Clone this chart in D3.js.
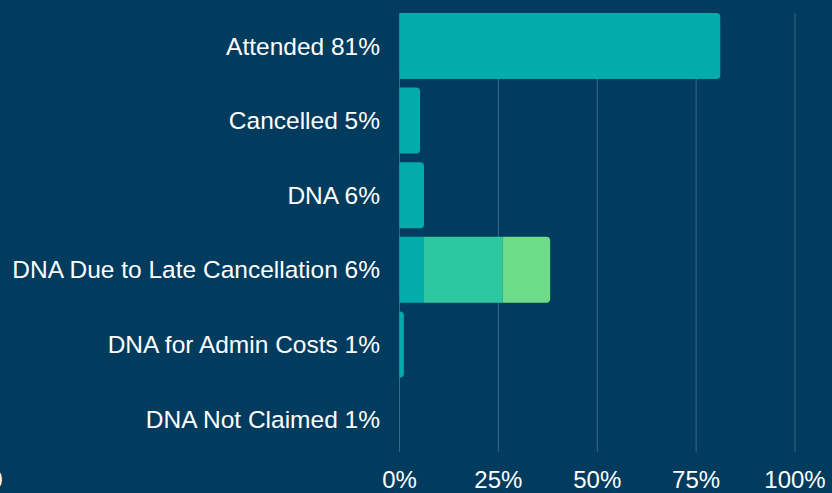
<!DOCTYPE html>
<html>
<head>
<meta charset="utf-8">
<script src="https://cdn.jsdelivr.net/npm/d3@7"></script>
<style>
  html, body { margin: 0; padding: 0; background: #013c5f; overflow: hidden; }
  svg { display: block; font-family: "Liberation Sans", Arial, sans-serif; }
</style>
</head>
<body>
<svg id="chart"></svg>
<script>
// categories and values (percent of bar length)
const categories = ["Attended 81%", "Cancelled 5%", "DNA 6%", "DNA Due to Late Cancellation 6%", "DNA for Admin Costs 1%", "DNA Not Claimed 1%"];
const seriesA = [81.1, 5.2, 6.2, 6.2, 1.1, 0];
const seriesB = [0, 0, 0, 19.9, 0, 0];
const seriesC = [0, 0, 0, 12.0, 0, 0];
const seriesColors = ["#02aca9", "#2dc8a0", "#6ddb87"];
const xTicks = [0, 25, 50, 75, 100];

function drawChart(){

    const width = 832;
    const height = 493;
    const margin = {top: 13, right: 37, bottom: 41, left: 399.5};

    const svg = d3.select("#chart")
                  .attr("width", width)
                  .attr("height", height);

    svg.selectAll("*").remove();

    const x = d3.scaleLinear()
                .domain([0, 100])
                .range([margin.left, width - margin.right]);

    const y = d3.scaleBand()
                .domain(categories)
                .range([margin.top, height - margin.bottom])
                .paddingInner(0.115)
                .paddingOuter(0);

    // grid lines
    svg.append("g")
       .selectAll("line")
       .data(xTicks)
       .join("line")
       .attr("x1", d => x(d))
       .attr("x2", d => x(d))
       .attr("y1", margin.top)
       .attr("y2", height - margin.bottom)
       .attr("stroke", "#36688a")
       .attr("stroke-width", 1);

    // stacked data
    const rows = categories.map((c, i) => ({cat: c, a: seriesA[i], b: seriesB[i], c: seriesC[i]}));
    const stack = d3.stack().keys(["a", "b", "c"])(rows);

    const r = 4;
    function barPath(x0, x1, y0, h, round){
        const w = x1 - x0;
        if (w <= 0) return "";
        const rr = round ? Math.min(r, w, h / 2) : 0;
        return `M${x0},${y0}H${x1 - rr}` +
               (rr ? `Q${x1},${y0} ${x1},${y0 + rr}` : "") +
               `V${y0 + h - rr}` +
               (rr ? `Q${x1},${y0 + h} ${x1 - rr},${y0 + h}` : "") +
               `H${x0}Z`;
    }

    stack.forEach((layer, li) => {
        svg.append("g")
           .selectAll("path")
           .data(layer)
           .join("path")
           .attr("fill", seriesColors[li])
           .attr("d", (d, i) => {
               // round the right end only on the last non-empty segment
               const isLast = stack.slice(li + 1).every(l => l[i][1] - l[i][0] === 0);
               return barPath(x(d[0]), x(d[1]), y(d.data.cat), y.bandwidth(), isLast);
           });
    });

    // category labels
    svg.append("g")
       .selectAll("text")
       .data(categories)
       .join("text")
       .attr("x", margin.left - 19.5)
       .attr("y", d => y(d) + y.bandwidth() / 2)
       .attr("dy", "0.35em")
       .attr("text-anchor", "end")
       .attr("fill", "#ffffff")
       .style("font-size", "24.5px")
       .text(d => d);

    // x axis labels
    svg.append("g")
       .selectAll("text")
       .data(xTicks)
       .join("text")
       .attr("x", d => x(d))
       .attr("y", 488)
       .attr("text-anchor", "middle")
       .attr("fill", "#ffffff")
       .style("font-size", "24px")
       .text(d => d + "%");

    // stray zero label at far left, partly off the edge as in the original
    svg.append("text")
       .attr("x", -4)
       .attr("y", 488)
       .attr("text-anchor", "middle")
       .attr("fill", "#ffffff")
       .style("font-size", "24px")
       .text("0");
}

drawChart();
</script>
</body>
</html>
